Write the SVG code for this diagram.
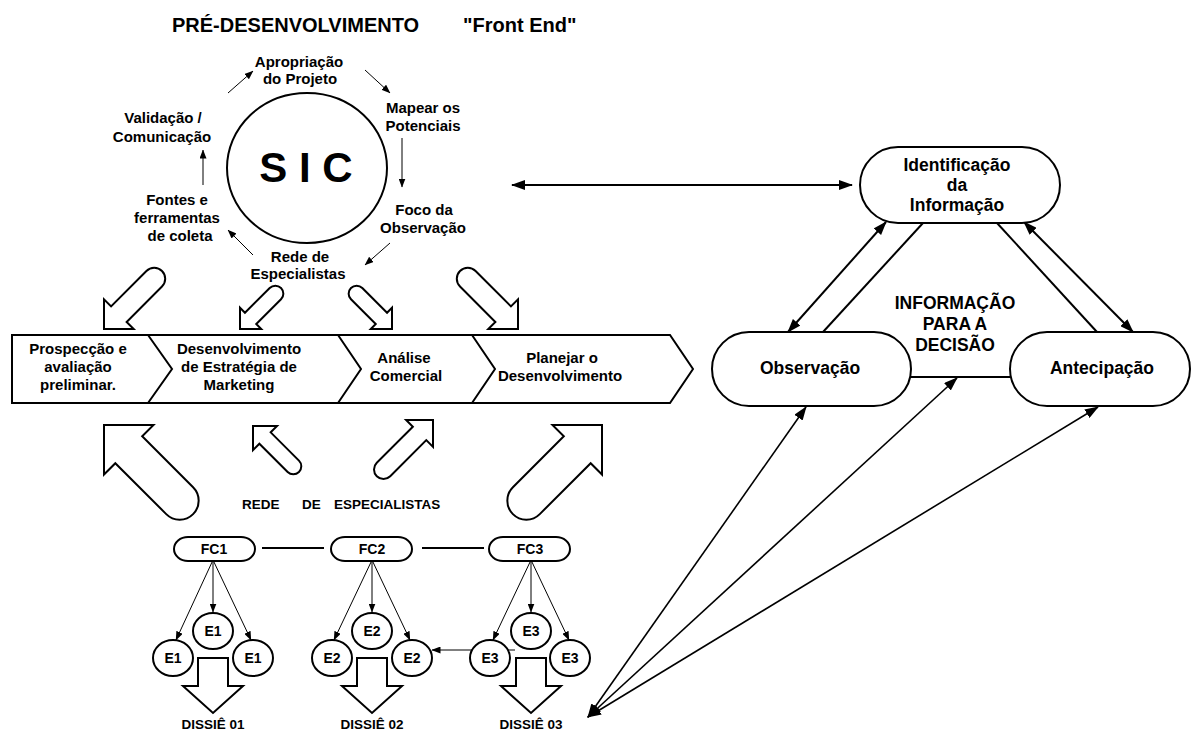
<svg xmlns="http://www.w3.org/2000/svg" width="1199" height="733" viewBox="0 0 1199 733">
  <style>
    .t { font-family: "Liberation Sans", Arial, sans-serif; font-weight: bold; fill: #000; text-anchor: middle; }
    .s15 { font-size: 15px; }
    .s14 { font-size: 14px; }
    .s13 { font-size: 13.5px; }
    .s17 { font-size: 17.5px; }
    .shape { fill: #fff; stroke: #000; stroke-width: 2; }
    .thin { fill: none; stroke: #000; stroke-width: 1; }
    .mid { fill: none; stroke: #000; stroke-width: 1.6; }
    .thick { fill: none; stroke: #000; stroke-width: 2; }
  </style>
  <defs>
    <marker id="ahL" viewBox="0 0 14 10" refX="13" refY="5" markerWidth="14" markerHeight="10" markerUnits="userSpaceOnUse" orient="auto-start-reverse">
      <path d="M0,0 L14,5 L0,10 z" fill="#000"/>
    </marker>
    <marker id="ahS" viewBox="0 0 9 7" refX="8.5" refY="3.5" markerWidth="9" markerHeight="7" markerUnits="userSpaceOnUse" orient="auto">
      <path d="M0,0 L9,3.5 L0,7 z" fill="#000"/>
    </marker>
    <!-- block arrows, drawn pointing up with the tip at the origin -->
    <path id="blkA" d="M0,0 L21,21 L11,21 L11,71 A11,11 0 0 1 -11,71 L-11,21 L-21,21 Z"/>
    <path id="blkB" d="M0,0 L15,15 L8,15 L8,50 A8,8 0 0 1 -8,50 L-8,15 L-15,15 Z"/>
    <path id="blkC" d="M0,0 L35,35 L19,35 L19,107 A19,19 0 0 1 -19,107 L-19,35 L-35,35 Z"/>
    <path id="blkD" d="M0,0 L17,17 L8,17 L8,57 A8,8 0 0 1 -8,57 L-8,17 L-17,17 Z"/>
    <path id="blkE" d="M0,0 L19,19 L9.5,19 L9.5,70 A9.5,9.5 0 0 1 -9.5,70 L-9.5,19 L-19,19 Z"/>
  </defs>

  <rect width="1199" height="733" fill="#fff"/>

  <!-- heading -->
  <g id="title">
    <text class="t" x="172" y="32" style="font-size:20px;text-anchor:start">PRÉ-DESENVOLVIMENTO</text>
    <text class="t" x="463" y="32" style="font-size:20px;text-anchor:start">"Front End"</text>
  </g>

  <!-- SIC cycle -->
  <g id="sic">
    <ellipse class="shape" cx="307" cy="168" rx="80" ry="75"/>
    <text class="t" x="306" y="182" style="font-size:42px">S I C</text>
  </g>
  <g id="cycle-apropriacao">
    <text class="t s15" x="299" y="67">Apropriação</text>
    <text class="t s15" x="300" y="84">do Projeto</text>
  </g>
  <g id="cycle-mapear">
    <text class="t s15" x="423" y="113">Mapear os</text>
    <text class="t s15" x="423" y="131">Potenciais</text>
  </g>
  <g id="cycle-foco">
    <text class="t s15" x="424" y="215">Foco da</text>
    <text class="t s15" x="423" y="233">Observação</text>
  </g>
  <g id="cycle-rede">
    <text class="t s15" x="300" y="262">Rede de</text>
    <text class="t s15" x="298" y="279">Especialistas</text>
  </g>
  <g id="cycle-fontes">
    <text class="t s15" x="177" y="205">Fontes e</text>
    <text class="t s15" x="177" y="223">ferramentas</text>
    <text class="t s15" x="180" y="241">de coleta</text>
  </g>
  <g id="cycle-validacao">
    <text class="t s15" x="163" y="123">Validação /</text>
    <text class="t s15" x="162" y="142">Comunicação</text>
  </g>

  <!-- block arrows above the process bar -->
  <g id="inputs-top" class="shape">
    <use href="#blkA" transform="translate(104,329) rotate(225)"/>
    <use href="#blkB" transform="translate(240,329) rotate(225)"/>
    <use href="#blkB" transform="translate(392,329) rotate(135)"/>
    <use href="#blkA" transform="translate(518,329) rotate(135)"/>
  </g>

  <!-- process bar -->
  <g id="process">
    <path class="shape" d="M12,335 L670,335 L693,369 L670,403 L12,403 Z"/>
    <path class="thick" d="M148,335 L172,369 L148,403 M338,335 L361,369 L338,403 M472,335 L495,369 L472,403"/>
  </g>
  <g id="step-prospeccao">
    <text class="t s15" x="78" y="354">Prospecção e</text>
    <text class="t s15" x="78" y="372">avaliação</text>
    <text class="t s15" x="78" y="390">preliminar.</text>
  </g>
  <g id="step-estrategia">
    <text class="t s15" x="239" y="354">Desenvolvimento</text>
    <text class="t s15" x="239" y="372">de Estratégia de</text>
    <text class="t s15" x="239" y="390">Marketing</text>
  </g>
  <g id="step-analise">
    <text class="t s15" x="404" y="363">Análise</text>
    <text class="t s15" x="406" y="381">Comercial</text>
  </g>
  <g id="step-planejar">
    <text class="t s15" x="562" y="363">Planejar o</text>
    <text class="t s15" x="560" y="381">Desenvolvimento</text>
  </g>

  <!-- block arrows below the process bar -->
  <g id="inputs-bottom" class="shape">
    <use href="#blkC" transform="translate(104,425) rotate(-45)"/>
    <use href="#blkD" transform="translate(253,426) rotate(-45)"/>
    <use href="#blkE" transform="translate(433,420) rotate(45)"/>
    <use href="#blkC" transform="translate(602,425) rotate(45)"/>
  </g>

  <g id="rede-label">
    <text class="t s13" x="242" y="509" style="text-anchor:start">REDE</text>
    <text class="t s13" x="302" y="509" style="text-anchor:start">DE</text>
    <text class="t s13" x="334" y="509" style="text-anchor:start">ESPECIALISTAS</text>
  </g>

  <!-- connectors -->
  <g id="connectors">
    <!-- SIC cycle -->
    <g class="thin" marker-end="url(#ahS)">
      <line x1="228" y1="93" x2="253" y2="71"/>
      <line x1="365" y1="70" x2="390" y2="93"/>
      <line x1="402" y1="138" x2="402" y2="187"/>
      <line x1="390" y1="243" x2="365" y2="265"/>
      <line x1="253" y1="255" x2="228" y2="230"/>
      <line x1="203" y1="185" x2="203" y2="150"/>
    </g>
    <!-- SIC to information triangle -->
    <line class="thick" x1="512" y1="185" x2="852" y2="185" marker-start="url(#ahL)" marker-end="url(#ahL)"/>
    <!-- triangle sides -->
    <line class="thick" x1="886" y1="222" x2="788" y2="332" marker-start="url(#ahL)" marker-end="url(#ahL)"/>
    <line class="thick" x1="923" y1="223" x2="823" y2="332"/>
    <line class="thick" x1="997" y1="223" x2="1097" y2="332"/>
    <line class="thick" x1="1024" y1="222" x2="1133" y2="332" marker-start="url(#ahL)" marker-end="url(#ahL)"/>
    <line class="thick" x1="911" y1="377" x2="1010" y2="377"/>
    <!-- dossiers to the triangle -->
    <g class="mid" marker-start="url(#ahL)" marker-end="url(#ahL)">
      <line x1="588" y1="717" x2="806" y2="407"/>
      <line x1="588" y1="717" x2="957" y2="378"/>
      <line x1="588" y1="717" x2="1098" y2="407"/>
    </g>
    <!-- FC links -->
    <line class="thick" x1="262" y1="548" x2="324" y2="548"/>
    <line class="thick" x1="422" y1="548" x2="484" y2="548"/>
    <g class="thin" marker-end="url(#ahS)">
      <line x1="213" y1="560" x2="213" y2="612"/>
      <line x1="213" y1="560" x2="176" y2="640"/>
      <line x1="213" y1="560" x2="251" y2="640"/>
      <line x1="372" y1="560" x2="372" y2="612"/>
      <line x1="372" y1="560" x2="334" y2="640"/>
      <line x1="372" y1="560" x2="410" y2="640"/>
      <line x1="531" y1="560" x2="531" y2="612"/>
      <line x1="531" y1="560" x2="493" y2="640"/>
      <line x1="531" y1="560" x2="569" y2="640"/>
      <line x1="515" y1="650" x2="432" y2="650"/>
    </g>
  </g>

  <!-- information triangle -->
  <g id="identificacao">
    <rect class="shape" x="860" y="147" width="200" height="76" rx="38"/>
    <text class="t s17" x="957" y="171">Identificação</text>
    <text class="t s17" x="957" y="191">da</text>
    <text class="t s17" x="957" y="211">Informação</text>
  </g>
  <g id="observacao">
    <rect class="shape" x="712" y="332" width="199" height="74" rx="37"/>
    <text class="t s17" x="810" y="374">Observação</text>
  </g>
  <g id="antecipacao">
    <rect class="shape" x="1010" y="332" width="180" height="74" rx="37"/>
    <text class="t s17" x="1102" y="374">Antecipação</text>
  </g>
  <g id="decisao">
    <text class="t s17" x="955" y="309">INFORMAÇÃO</text>
    <text class="t s17" x="955" y="330">PARA A</text>
    <text class="t s17" x="955" y="351">DECISÃO</text>
  </g>

  <!-- specialist network -->
  <g id="fc1">
    <rect class="shape" x="174" y="537" width="81" height="24" rx="14" ry="12"/>
    <text class="t s14" x="214" y="554">FC1</text>
  </g>
  <g id="fc2">
    <rect class="shape" x="331" y="537" width="81" height="24" rx="14" ry="12"/>
    <text class="t s14" x="372" y="554">FC2</text>
  </g>
  <g id="fc3">
    <rect class="shape" x="489" y="537" width="81" height="24" rx="14" ry="12"/>
    <text class="t s14" x="530" y="554">FC3</text>
  </g>

  <g id="e1-top"><ellipse class="shape" cx="213" cy="631" rx="20" ry="18"/><text class="t s14" x="213" y="636">E1</text></g>
  <g id="e1-left"><ellipse class="shape" cx="173" cy="658" rx="20" ry="18"/><text class="t s14" x="173" y="663">E1</text></g>
  <g id="e1-right"><ellipse class="shape" cx="253" cy="658" rx="20" ry="18"/><text class="t s14" x="253" y="663">E1</text></g>
  <g id="e2-top"><ellipse class="shape" cx="372" cy="631" rx="20" ry="18"/><text class="t s14" x="372" y="636">E2</text></g>
  <g id="e2-left"><ellipse class="shape" cx="332" cy="658" rx="20" ry="18"/><text class="t s14" x="332" y="663">E2</text></g>
  <g id="e2-right"><ellipse class="shape" cx="412" cy="658" rx="20" ry="18"/><text class="t s14" x="412" y="663">E2</text></g>
  <g id="e3-top"><ellipse class="shape" cx="531" cy="631" rx="20" ry="18"/><text class="t s14" x="531" y="636">E3</text></g>
  <g id="e3-left"><ellipse class="shape" cx="490" cy="658" rx="20" ry="18"/><text class="t s14" x="490" y="663">E3</text></g>
  <g id="e3-right"><ellipse class="shape" cx="570" cy="658" rx="20" ry="18"/><text class="t s14" x="570" y="663">E3</text></g>

  <!-- dossier outputs -->
  <g id="dossie-01">
    <path class="shape" d="M198,658 L228,658 L228,686 L243,686 L213,713 L183,686 L198,686 Z"/>
    <text class="t s13" x="213" y="729">DISSIÊ 01</text>
  </g>
  <g id="dossie-02">
    <path class="shape" d="M357,658 L387,658 L387,686 L402,686 L372,713 L342,686 L357,686 Z"/>
    <text class="t s13" x="372" y="729">DISSIÊ 02</text>
  </g>
  <g id="dossie-03">
    <path class="shape" d="M516,658 L546,658 L546,686 L561,686 L531,713 L501,686 L516,686 Z"/>
    <text class="t s13" x="531" y="729">DISSIÊ 03</text>
  </g>
</svg>
